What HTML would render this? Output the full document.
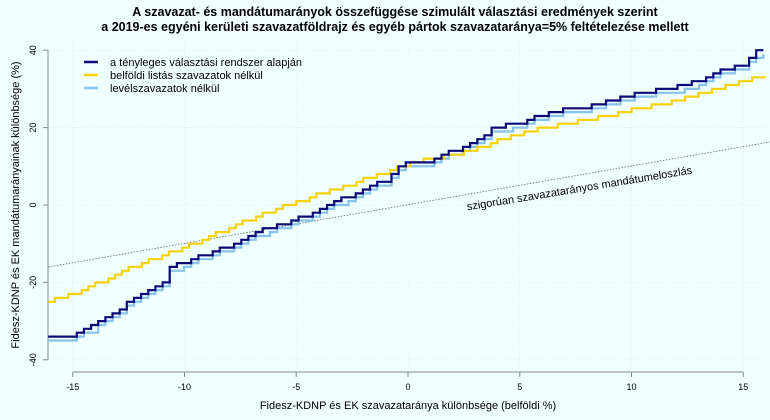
<!DOCTYPE html>
<html><head><meta charset="utf-8"><style>
html,body{margin:0;padding:0;background:#f0ffff;}
svg{display:block;font-family:"Liberation Sans",Arial,sans-serif;}
</style></head><body>
<svg id="s" width="770" height="420" viewBox="0 0 770 420" xmlns="http://www.w3.org/2000/svg">
<rect width="770" height="420" fill="#f0ffff"/>
<text x="395" y="16" text-anchor="middle" font-size="12.5" font-weight="bold">A szavazat- és mandátumarányok összefüggése szimulált választási eredmények szerint</text>
<text x="395" y="31" text-anchor="middle" font-size="12.5" font-weight="bold">a 2019-es egyéni kerületi szavazatföldrajz és egyéb pártok szavazataránya=5% feltételezése mellett</text>
<g id="grid" stroke="#d8ecec" stroke-width="0.8" stroke-dasharray="1,2"></g>
<line x1="48" y1="50" x2="48" y2="360" stroke="#888" stroke-width="1"/>
<line x1="73" y1="372" x2="743" y2="372" stroke="#888" stroke-width="1"/>
<g id="ticks" stroke="#888"></g>
<g id="tl" font-size="9" fill="#000"></g>
<line x1="48" y1="267" x2="770" y2="142" stroke="#666" stroke-width="0.8" stroke-dasharray="1.5,1.5"/>
<text transform="translate(580,192) rotate(-9.3)" text-anchor="middle" font-size="11">szigorúan szavazatarányos mandátumeloszlás</text>
<g id="series" fill="none" stroke-width="2.2"></g>
<line x1="84" y1="62" x2="98" y2="62" stroke="#0a0a78" stroke-width="2.5"/>
<line x1="84" y1="75" x2="98" y2="75" stroke="#f5d20a" stroke-width="2.5"/>
<line x1="84" y1="88" x2="98" y2="88" stroke="#87c3ea" stroke-width="2.5"/>
<text x="110" y="66" font-size="11">a tényleges választási rendszer alapján</text>
<text x="110" y="79" font-size="11">belföldi listás szavazatok nélkül</text>
<text x="110" y="92" font-size="11">levélszavazatok nélkül</text>
<text x="408" y="409" text-anchor="middle" font-size="11">Fidesz-KDNP és EK szavazataránya különbsége (belföldi %)</text>
<text transform="translate(19,205) rotate(-90)" text-anchor="middle" font-size="11">Fidesz-KDNP és EK mandátumarányainak különbsége (%)</text>
</svg>
<script>
var NS="http://www.w3.org/2000/svg";
function X(v){return 408+v*22.35;}
function Y(v){return 205-v*3.87;}
function el(p,t,a){var e=document.createElementNS(NS,t);for(var k in a)e.setAttribute(k,a[k]);p.appendChild(e);return e;}
var g=document.getElementById('grid'),tk=document.getElementById('ticks'),tl=document.getElementById('tl');
[-15,-10,-5,0,5,10,15].forEach(function(v){el(g,'line',{x1:X(v),y1:40,x2:X(v),y2:370});
 el(tk,'line',{x1:X(v),y1:372,x2:X(v),y2:377});
 var t=el(tl,'text',{x:X(v),y:390,'text-anchor':'middle'});t.textContent=v;});
[-40,-20,0,20,40].forEach(function(v){el(g,'line',{x1:48,y1:Y(v),x2:770,y2:Y(v)});
 el(tk,'line',{x1:43,y1:Y(v),x2:48,y2:Y(v)});
 var t=el(tl,'text',{transform:'translate(36,'+Y(v)+') rotate(-90)','text-anchor':'middle'});t.textContent=v;});
function interp(k,x){for(var i=0;i<k.length-1;i++){if(x<=k[i+1][0]){var a=k[i],b=k[i+1];return a[1]+(b[1]-a[1])*(x-a[0])/(b[0]-a[0]);}}return k[k.length-1][1];}
function path(k,step,q,col,w){var d='',prev=null;for(var x=-16.1;x<=16.15;x+=step){var v=Math.round(interp(k,x)/q)*q;
 if(prev===null)d='M'+X(x).toFixed(1)+','+Y(v).toFixed(1);else{d+='H'+X(x).toFixed(1);if(v!==prev)d+='V'+Y(v).toFixed(1);}prev=v;}
 el(document.getElementById('series'),'path',{d:d,stroke:col,'stroke-width':w});}
var yel=[[-16.1,-25],[-15,-23],[-14,-20.5],[-13,-18],[-12,-15],[-10,-11],[-8,-6],[-7,-3.5],[-4,3],[-2,6.5],[-1,8.5],[0,10.5],[1,12],[2,13],[3,14.7],[5,18.6],[7,21],[8,22],[10,24.5],[12,27],[14,30.5],[16.1,33.5]];
var db=[[-16.1,-34],[-15,-33.5],[-14.2,-31.5],[-13,-27],[-12,-23],[-11,-20],[-10.7,-16.5],[-10,-14.5],[-9,-12.5],[-8,-10.5],[-7,-7.5],[-6,-5.5],[-5,-3.5],[-4,-1.3],[-3,1.5],[-2.1,4],[-1,6.5],[-0.5,10.3],[1,11.5],[2,14.2],[3,16.3],[3.7,19.6],[5,21.4],[6.7,24.5],[8,25.5],[10,28.5],[12,30.5],[13,32],[14,35],[15,36],[15.5,39.5],[16.1,40]];
var lb=db.map(function(p){return [p[0],p[1]-1.1];});
path(lb,0.32,1,'#87c3ea',2.2);
path(yel,0.3,1,'#f5d20a',2.2);
path(db,0.32,1,'#0a0a78',2.2);
</script>
</body></html>
